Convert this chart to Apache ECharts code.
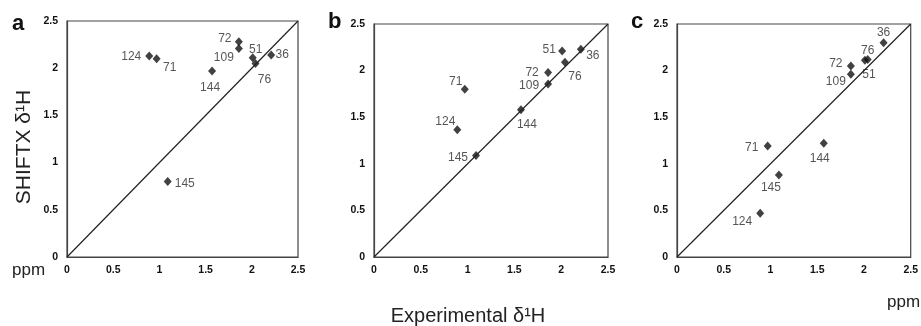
<!DOCTYPE html>
<html>
<head>
<meta charset="utf-8">
<script src="https://cdn.jsdelivr.net/npm/echarts@6/dist/echarts.min.js"></script>
<style>
html,body{margin:0;padding:0;background:#fff;}
#chart{width:921px;height:326px;}
</style>
</head>
<body>
<div id="chart"></div>
<script>
// Residue labels
const residues = ['36', '51', '71', '72', '76', '109', '124', '144', '145'];
// Experimental δ1H (ppm), shared x for all panels
const experimental = [2.21, 2.01, 0.97, 1.86, 2.04, 1.86, 0.89, 1.57, 1.09];
// SHIFTX δ1H (ppm) per panel
const shiftxA = [2.14, 2.11, 2.10, 2.28, 2.05, 2.21, 2.13, 1.97, 0.80];
const shiftxB = [2.23, 2.21, 1.80, 1.98, 2.09, 1.855, 1.365, 1.58, 1.09];
const shiftxC = [2.30, 2.11, 1.19, 2.05, 2.12, 1.96, 0.47, 1.22, 0.88];
// Axis ticks
const axisTicks = [0, 0.5, 1, 1.5, 2, 2.5];
const panelLetters = ['a', 'b', 'c'];

// label offsets (style), per panel, per residue
const labelOffsets = [
  [[11,0],[3,-8],[13,9],[-14,-3],[9,16],[-15,9],[-18,1],[-2,17],[17,2]],
  [[12,7],[-13,-1],[-9,-8],[-16,0],[10,14],[-19,2],[-12,-8],[6,15],[-18,2]],
  [[0,-10],[4,14],[-16,2],[-15,-2],[0,-9],[-15,7],[-18,8],[-4,15],[-8,13]]
];

const grids = [
  {left: 67, top: 21, width: 231, height: 236},
  {left: 374, top: 24, width: 234, height: 233},
  {left: 677, top: 24, width: 234, height: 233}
];
const panelsY = [shiftxA, shiftxB, shiftxC];
const FONT = 'Liberation Sans, Arial, sans-serif';

const tickFont = {fontFamily: FONT, fontWeight: 'bold', fontSize: 10.5, color: '#111'};

const option = {
  animation: false,
  backgroundColor: '#fff',
  grid: grids.map(g => Object.assign({show: true, borderColor: '#444', borderWidth: 1.2, backgroundColor: 'transparent'}, g)),
  xAxis: grids.map((g, i) => ({
    type: 'value', gridIndex: i, min: 0, max: 2.5, interval: 0.5,
    axisLine: {show: true, lineStyle: {color: '#444', width: 1.2}},
    axisTick: {show: false},
    splitLine: {show: false},
    axisLabel: Object.assign({margin: 8, formatter: v => String(v)}, tickFont)
  })),
  yAxis: grids.map((g, i) => ({
    type: 'value', gridIndex: i, min: 0, max: 2.5, interval: 0.5,
    axisLine: {show: true, lineStyle: {color: '#444', width: 1.2}},
    axisTick: {show: false},
    splitLine: {show: false},
    axisLabel: Object.assign({margin: 9, formatter: v => String(v)}, tickFont)
  })),
  series: []
};

panelsY.forEach((ys, p) => {
  option.series.push({
    type: 'line', xAxisIndex: p, yAxisIndex: p,
    data: [[axisTicks[0], axisTicks[0]], [axisTicks[axisTicks.length-1], axisTicks[axisTicks.length-1]]],
    symbol: 'none', lineStyle: {color: '#222', width: 1.2}, silent: true
  });
  option.series.push({
    type: 'scatter', xAxisIndex: p, yAxisIndex: p,
    symbol: 'diamond', symbolSize: [8, 9],
    itemStyle: {color: '#111'},
    data: residues.map((r, k) => ({
      value: [experimental[k], ys[k]],
      name: r,
      label: {
        show: true, position: 'inside', offset: labelOffsets[p][k],
        formatter: r, color: '#2a2a2a', fontSize: 12,
        fontFamily: FONT
      }
    }))
  });
});

option.graphic = [
  {type: 'text', left: 12, top: 13, style: {text: panelLetters[0], fontSize: 22, fontWeight: 'bold', fontFamily: FONT, fill: '#111'}},
  {type: 'text', left: 328, top: 11, style: {text: panelLetters[1], fontSize: 22, fontWeight: 'bold', fontFamily: FONT, fill: '#111'}},
  {type: 'text', left: 631, top: 11, style: {text: panelLetters[2], fontSize: 22, fontWeight: 'bold', fontFamily: FONT, fill: '#111'}},
  {type: 'text', left: 12, top: 262, style: {text: 'ppm', fontSize: 17, fontFamily: FONT, fill: '#222'}},
  {type: 'text', left: 887, top: 294, style: {text: 'ppm', fontSize: 17, fontFamily: FONT, fill: '#222'}},
  {type: 'text', x: 468, y: 316, style: {text: 'Experimental δ¹H', fontSize: 20, fontFamily: FONT, fill: '#222', align: 'center', verticalAlign: 'middle'}},
  {type: 'text', x: 24, y: 147, rotation: Math.PI / 2, style: {text: 'SHIFTX δ¹H', fontSize: 21, fontFamily: FONT, fill: '#222', align: 'center', verticalAlign: 'middle'}}
];

const chart = echarts.init(document.getElementById('chart'), null, {renderer: 'canvas'});
chart.setOption(option);
</script>
</body>
</html>
